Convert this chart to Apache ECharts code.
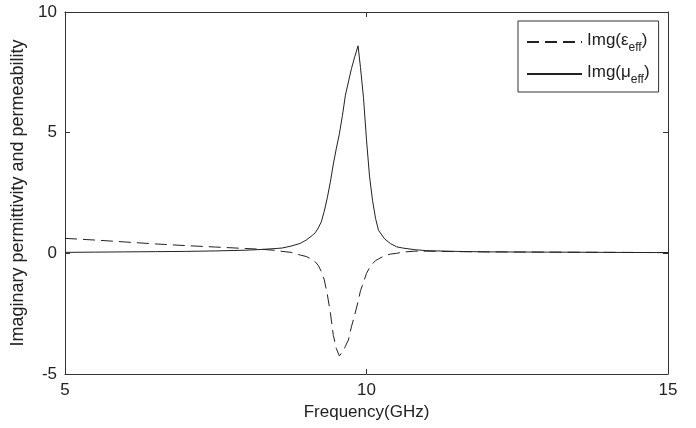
<!DOCTYPE html>
<html>
<head>
<meta charset="utf-8">
<script src="https://cdn.jsdelivr.net/npm/echarts@6/dist/echarts.min.js"></script>
<style>
  html, body { margin: 0; padding: 0; background: #fff; }
  #chart { width: 696px; height: 428px; }
</style>
</head>
<body>
<div id="chart"></div>
<script>
// Frequency samples (GHz)
const freq = [5, 5.5, 6, 6.5, 7, 7.5, 8, 8.25, 8.5, 8.6, 8.75, 8.9, 9.0, 9.1, 9.15, 9.2, 9.25,
  9.3, 9.35, 9.4, 9.45, 9.5, 9.55, 9.6, 9.65, 9.7, 9.75, 9.8, 9.86, 9.9, 9.95, 10.0, 10.05,
  10.1, 10.15, 10.2, 10.3, 10.4, 10.5, 10.6, 10.8, 11, 11.5, 12, 13, 14, 15];

// Imaginary part of effective permittivity
const imgEps = [0.62, 0.55, 0.47, 0.39, 0.32, 0.26, 0.2, 0.17, 0.12, 0.08, 0.04, -0.07, -0.13, -0.26, -0.35, -0.5, -0.75,
  -1.1, -1.7, -2.45, -3.4, -3.95, -4.25, -4.1, -3.85, -3.59, -3.04, -2.6, -2.0, -1.55, -1.2, -0.83, -0.6,
  -0.43, -0.3, -0.23, -0.1, -0.03, 0.0, 0.05, 0.09, 0.09, 0.07, 0.06, 0.05, 0.04, 0.03];

// Imaginary part of effective permeability
const imgMu = [0.04, 0.05, 0.06, 0.07, 0.08, 0.1, 0.13, 0.16, 0.2, 0.22, 0.3, 0.41, 0.55, 0.74, 0.85, 1.05, 1.3,
  1.75, 2.3, 2.95, 3.7, 4.35, 4.95, 5.7, 6.55, 7.1, 7.65, 8.1, 8.6, 7.7, 6.45, 4.7, 3.2,
  2.2, 1.45, 0.95, 0.6, 0.4, 0.27, 0.22, 0.15, 0.11, 0.08, 0.06, 0.05, 0.04, 0.03];

const xTicks = { min: 5, max: 15, interval: 5 };
const yTicks = { min: -5, max: 10, interval: 5 };

const ink = '#222';
const font = 'Liberation Sans, Arial, sans-serif';

const pairs = (ys) => freq.map((f, i) => [f, ys[i]]);

const baseAxis = {
  axisLine: { show: true, onZero: false, lineStyle: { color: '#333', width: 1 } },
  axisTick: { show: true, inside: true, length: 5, lineStyle: { color: '#333' } },
  splitLine: { show: false }
};

const chart = echarts.init(document.getElementById('chart'), null, { renderer: 'canvas' });
chart.setOption({
  backgroundColor: '#fff',
  animation: false,
  grid: { left: 65, right: 28, top: 12, bottom: 54 },
  xAxis: [
    Object.assign({}, baseAxis, {
      type: 'value', position: 'bottom', min: xTicks.min, max: xTicks.max, interval: xTicks.interval,
      name: 'Frequency(GHz)', nameLocation: 'middle', nameGap: 28,
      nameTextStyle: { fontFamily: font, fontSize: 17, color: ink },
      axisLabel: { fontFamily: font, fontSize: 17, color: ink, margin: 8 }
    }),
    Object.assign({}, baseAxis, {
      type: 'value', position: 'top', min: xTicks.min, max: xTicks.max, interval: xTicks.interval,
      axisLabel: { show: false }
    })
  ],
  yAxis: [
    Object.assign({}, baseAxis, {
      type: 'value', position: 'left', min: yTicks.min, max: yTicks.max, interval: yTicks.interval,
      name: 'Imaginary permittivity and permeability', nameLocation: 'middle', nameGap: 36,
      nameTextStyle: { fontFamily: font, fontSize: 18, color: ink },
      axisLabel: { fontFamily: font, fontSize: 17, color: ink, margin: 8 }
    }),
    Object.assign({}, baseAxis, {
      type: 'value', position: 'right', min: yTicks.min, max: yTicks.max, interval: yTicks.interval,
      axisLabel: { show: false }
    })
  ],
  legend: {
    orient: 'vertical',
    left: 518, top: 21,
    padding: [9, 9, 6, 8],
    itemGap: 8,
    itemWidth: 55, itemHeight: 14,
    borderColor: '#333', borderWidth: 1,
    backgroundColor: '#fff',
    itemStyle: { color: 'rgba(0,0,0,0)', borderWidth: 0 },
    formatter: (name) => name === 'eps' ? '{a|Img(ε}{s|eff}{a|)}' : '{a|Img(μ}{s|eff}{a|)}',
    textStyle: {
      rich: {
        a: { fontFamily: font, fontSize: 17, color: ink, lineHeight: 22, padding: [0, 0, 4, 0] },
        s: { fontFamily: font, fontSize: 12, color: ink, lineHeight: 22, padding: [12, 0, 0, 0] }
      }
    },
    data: ['eps', 'mu']
  },
  series: [
    {
      name: 'eps', type: 'line', data: pairs(imgEps), showSymbol: false, symbol: 'none',
      lineStyle: { color: ink, width: 1, type: [12, 6] }, itemStyle: { color: ink }
    },
    {
      name: 'mu', type: 'line', data: pairs(imgMu), showSymbol: false, symbol: 'none',
      lineStyle: { color: ink, width: 1, type: 'solid' }, itemStyle: { color: ink }
    }
  ]
});
</script>
</body>
</html>
